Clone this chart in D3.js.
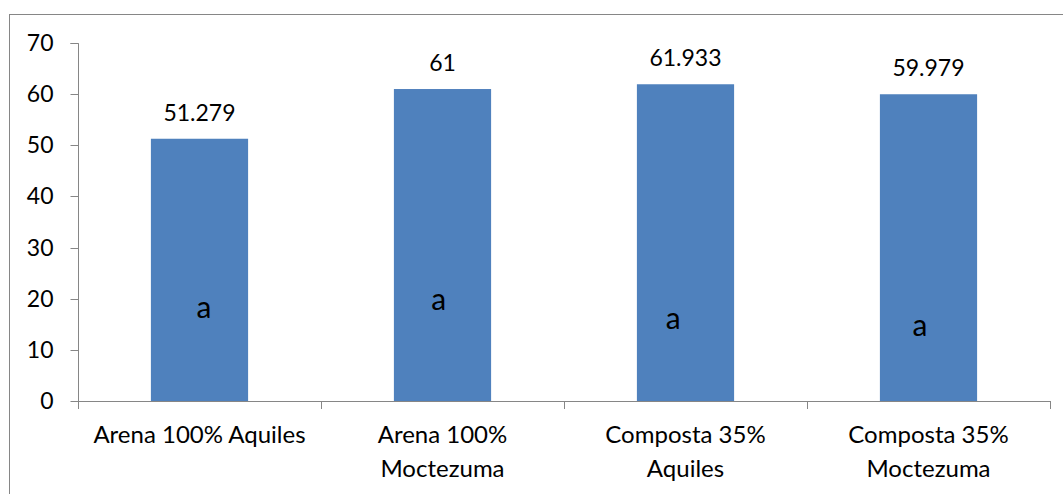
<!DOCTYPE html>
<html>
<head>
<meta charset="utf-8">
<script src="https://cdn.jsdelivr.net/npm/d3@7/dist/d3.min.js"></script>
<style>
  html, body { margin: 0; padding: 0; background: #fff; }
  svg { display: block; }
  text { font-family: Lato, "Open Sans", sans-serif; fill: #000; }
</style>
</head>
<body>
<svg id="chart" width="1063" height="494"></svg>
<script>
// Treatments (two-line labels split on "|")
const categories = ["Arena 100% Aquiles", "Arena 100%|Moctezuma", "Composta 35%|Aquiles", "Composta 35%|Moctezuma"];
const values = [51.279, 61, 61.933, 59.979];
const valueLabels = ["51.279", "61", "61.933", "59.979"];
// Significance letters and where they sit (value units, share of category width)
const letters = ["a", "a", "a", "a"];
const letterValue = [16.2, 17.8, 14.1, 12.7];
const letterBandPos = [0.518, 0.484, 0.449, 0.465];
const yTicks = [0, 10, 20, 30, 40, 50, 60, 70];

const svg = d3.select("#chart");
const axisColor = "#868686";
const barColor = "#4F81BD";
const fontSize = 23;

// outer frame
svg.append("rect")
  .attr("x", 9.5).attr("y", 14.5)
  .attr("width", 1100).attr("height", 600)
  .attr("fill", "none").attr("stroke", axisColor).attr("stroke-width", 1);

const x = d3.scaleBand().domain(categories).range([78, 1050]).padding(0);
const y = d3.scaleLinear().domain([0, 70]).range([401, 43]);
const barW = x.bandwidth() * 0.4;

// bars
svg.append("g").selectAll("rect")
  .data(categories)
  .join("rect")
  .attr("x", (d) => x(d) + (x.bandwidth() - barW) / 2)
  .attr("y", (d, i) => y(values[i]))
  .attr("width", barW)
  .attr("height", (d, i) => y(0) - y(values[i]))
  .attr("fill", barColor);

// y axis
const yAxis = svg.append("g")
  .attr("transform", "translate(78.5,0)")
  .call(d3.axisLeft(y).tickValues(yTicks).tickSize(8).tickPadding(17).tickFormat(d3.format("d")));
yAxis.select(".domain").attr("stroke", axisColor);
yAxis.selectAll(".tick line").attr("stroke", axisColor);
yAxis.selectAll(".tick text").attr("font-size", fontSize).attr("font-family", "Lato").attr("fill", "#000");
yAxis.selectAll(".tick").attr("transform", (d) => `translate(0,${Math.round(y(d)) + 0.5})`);
yAxis.select(".domain").attr("d", `M-8,${y(70) + 0.5}H0V${y(0) + 0.5}`);

// x axis: baseline with ticks at category boundaries
const xg = svg.append("g");
xg.append("line")
  .attr("x1", 78).attr("x2", 1050.5)
  .attr("y1", y(0) + 0.5).attr("y2", y(0) + 0.5)
  .attr("stroke", axisColor);
const bounds = categories.map((d) => x(d)).concat([x.range()[1]]);
xg.selectAll(".xt")
  .data(bounds)
  .join("line")
  .attr("class", "xt")
  .attr("x1", (d) => Math.round(d) + 0.5).attr("x2", (d) => Math.round(d) + 0.5)
  .attr("y1", y(0)).attr("y2", y(0) + 8)
  .attr("stroke", axisColor);

// category labels
const lineH = 34;
xg.selectAll(".cat")
  .data(categories)
  .join("text")
  .attr("class", "cat")
  .attr("text-anchor", "middle")
  .attr("font-size", 24)
  .attr("x", (d) => x(d) + x.bandwidth() / 2)
  .attr("y", 443)
  .each(function (d) {
    const parts = d.split("|");
    d3.select(this).selectAll("tspan")
      .data(parts)
      .join("tspan")
      .attr("x", x(d) + x.bandwidth() / 2)
      .attr("dy", (p, i) => (i === 0 ? 0 : lineH))
      .text((p) => p);
  });

// value labels above bars
svg.append("g").selectAll("text")
  .data(categories)
  .join("text")
  .attr("text-anchor", "middle")
  .attr("font-size", fontSize)
  .attr("x", (d) => x(d) + x.bandwidth() / 2)
  .attr("y", (d, i) => y(values[i]) - 18)
  .text((d, i) => valueLabels[i]);

// significance letters inside bars
svg.append("g").selectAll("text")
  .data(categories)
  .join("text")
  .attr("text-anchor", "middle")
  .attr("font-size", 30)
  .attr("x", (d, i) => x(d) + x.bandwidth() * letterBandPos[i])
  .attr("y", (d, i) => y(letterValue[i]))
  .text((d, i) => letters[i]);
</script>
</body>
</html>
